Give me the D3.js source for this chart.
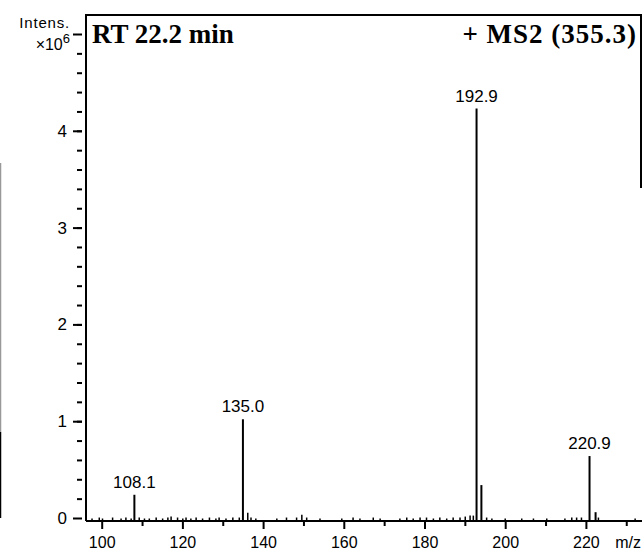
<!DOCTYPE html>
<html>
<head>
<meta charset="utf-8">
<script src="https://cdn.jsdelivr.net/npm/d3@7"></script>
<style>
body { margin: 0; background: #fff; }
svg { display: block; }
</style>
</head>
<body>
<script>
const w = 642;
const h = 551;

// main peaks, intensity in x10^6
const peakMz = [108.1, 135.0, 192.9, 194.1, 220.9, 222.4];
const peakInt = [0.24, 1.02, 4.23, 0.34, 0.64, 0.06];
const peakLabels = ["108.1", "135.0", "192.9", "", "220.9", ""];

// baseline noise
const noiseMz = [97.6, 99.4, 100.2, 102.7, 104.8, 106.0, 107.3, 109.3, 110.6, 111.8,
                 113.5, 115.1, 116.4, 117.2, 118.8, 120.1, 120.9, 122.1, 123.4, 125.0,
                 126.7, 128.3, 129.1, 130.8, 132.5, 134.1, 136.2, 137.0, 138.2, 143.4,
                 145.8, 148.3, 149.6, 150.8, 154.1, 159.5, 162.3, 164.0, 167.3, 169.0,
                 173.9, 175.6, 177.2, 178.9, 180.5, 182.2, 183.8, 185.5, 187.1, 188.8,
                 190.1, 191.3, 192.1, 195.4, 196.7, 200.0, 204.1, 207.0, 210.3, 214.8,
                 216.5, 217.7, 218.9, 223.1, 232.2];
const noiseInt = [0.00, 0.01, 0.00, 0.01, 0.00, 0.01, 0.00, 0.01, 0.00, 0.00,
                  0.01, 0.00, 0.01, 0.02, 0.01, 0.00, 0.01, 0.00, 0.01, 0.00,
                  0.01, 0.00, 0.01, 0.00, 0.01, 0.01, 0.06, 0.01, 0.00, 0.00,
                  0.01, 0.01, 0.04, 0.01, 0.00, 0.00, 0.01, 0.00, 0.01, 0.00,
                  0.00, 0.01, 0.00, 0.01, 0.01, 0.00, 0.01, 0.00, 0.01, 0.01,
                  0.02, 0.03, 0.03, 0.01, 0.00, 0.00, 0.00, 0.00, 0.00, 0.00,
                  0.01, 0.01, 0.01, 0.01, 0.00];

const xTicks = [100, 120, 140, 160, 180, 200, 220];
const xMinorTicks = [110, 130, 150, 170, 190, 210, 230];
const yTicks = [0, 1, 2, 3, 4, 5];
const yTickLabels = ["0", "1", "2", "3", "4", ""];

const axisY = 521;

const xScale = d3.scaleLinear()
                 .domain([100, 220])
                 .range([101.7, 585.9]);

const yScale = d3.scaleLinear()
                 .domain([0, 5])
                 .range([518, 34]);

const svg = d3.select("body")
              .append("svg")
              .attr("width", w)
              .attr("height", h);

// left edge scan artefact
svg.append("line").attr("x1", 0.5).attr("x2", 0.5).attr("y1", 163).attr("y2", 432)
   .attr("stroke", "#999").attr("stroke-width", 1.5);
svg.append("line").attr("x1", 0.5).attr("x2", 0.5).attr("y1", 432).attr("y2", 518)
   .attr("stroke", "#000").attr("stroke-width", 1.5);

// frame
const frame = svg.append("g").attr("stroke", "#000").attr("stroke-width", 2);
frame.append("line").attr("x1", 86).attr("x2", 86).attr("y1", 14).attr("y2", axisY);
frame.append("line").attr("x1", 86).attr("x2", 642).attr("y1", 15).attr("y2", 15);
frame.append("line").attr("x1", 641).attr("x2", 641).attr("y1", 14).attr("y2", 188);
frame.append("line").attr("x1", 86).attr("x2", 642).attr("y1", axisY).attr("y2", axisY);

// noise: tiny bumps just above the axis line
svg.selectAll("line.noise")
   .data(noiseMz)
   .enter()
   .append("line")
   .attr("class", "noise")
   .attr("x1", d => xScale(d))
   .attr("x2", d => xScale(d))
   .attr("y1", axisY)
   .attr("y2", (d, i) => yScale(noiseInt[i]) + 0.5)
   .attr("stroke", "#000")
   .attr("stroke-width", 1.5);

// peaks
svg.selectAll("line.peak")
   .data(peakMz)
   .enter()
   .append("line")
   .attr("class", "peak")
   .attr("x1", d => xScale(d))
   .attr("x2", d => xScale(d))
   .attr("y1", axisY)
   .attr("y2", (d, i) => yScale(peakInt[i]))
   .attr("stroke", "#000")
   .attr("stroke-width", 2);

svg.selectAll("text.plabel")
   .data(peakMz)
   .enter()
   .append("text")
   .attr("class", "plabel")
   .attr("x", d => xScale(d))
   .attr("y", (d, i) => yScale(peakInt[i]) - 7)
   .attr("text-anchor", "middle")
   .attr("font-family", "Liberation Sans, Arial, sans-serif")
   .attr("font-size", 17)
   .text((d, i) => peakLabels[i]);

// x axis
const xAxis = d3.axisBottom(xScale).tickValues(xTicks).tickSize(8).tickPadding(8)
                .tickFormat(d3.format("d"));
const xMinor = d3.axisBottom(xScale).tickValues(xMinorTicks).tickSize(5).tickFormat("");

const gx = svg.append("g")
   .attr("id", "x-axis")
   .attr("transform", "translate(0," + axisY + ")")
   .call(xAxis);
const gxm = svg.append("g")
   .attr("transform", "translate(0," + axisY + ")")
   .call(xMinor);

// y axis, ticks sit a little left of the frame
const yAxis = d3.axisLeft(yScale).tickValues(yTicks).tickSize(9).tickPadding(6)
                .tickFormat((d, i) => yTickLabels[i]);
const yMinor = d3.axisLeft(yScale).tickValues(d3.range(0.2, 5, 0.2)).tickSize(5).tickFormat("");

const gy = svg.append("g")
   .attr("id", "y-axis")
   .attr("transform", "translate(82,0)")
   .call(yAxis);
const gym = svg.append("g")
   .attr("transform", "translate(82,0)")
   .call(yMinor);

[gx, gxm, gy, gym].forEach(g => {
  g.select(".domain").remove();
  g.selectAll(".tick line").attr("stroke", "#000").attr("stroke-width", 2);
  g.selectAll(".tick text")
   .attr("fill", "#000")
   .attr("font-family", "Liberation Sans, Arial, sans-serif")
   .attr("font-size", 17);
});
gx.selectAll(".tick text").attr("font-size", 16);

// titles
svg.append("text")
   .attr("x", 92).attr("y", 43)
   .attr("font-family", "Liberation Serif, Times New Roman, serif")
   .attr("font-weight", "bold")
   .attr("font-size", 27)
   .text("RT 22.2 min");

svg.append("text")
   .attr("x", 637).attr("y", 43)
   .attr("text-anchor", "end")
   .attr("font-family", "Liberation Serif, Times New Roman, serif")
   .attr("font-weight", "bold")
   .attr("font-size", 27)
   .attr("letter-spacing", 1)
   .text("+ MS2 (355.3)");

// axis captions
svg.append("text")
   .attr("x", 70).attr("y", 28)
   .attr("text-anchor", "end")
   .attr("font-family", "Liberation Sans, Arial, sans-serif")
   .attr("font-size", 15)
   .attr("letter-spacing", 0.8)
   .text("Intens.");

const unit = svg.append("text")
   .attr("x", 70).attr("y", 50)
   .attr("text-anchor", "end")
   .attr("font-family", "Liberation Sans, Arial, sans-serif")
   .attr("font-size", 16);
unit.append("tspan").text("\u00d710");
unit.append("tspan").attr("dy", -7).attr("font-size", 13).text("6");

svg.append("text")
   .attr("x", 641).attr("y", 548)
   .attr("text-anchor", "end")
   .attr("font-family", "Liberation Sans, Arial, sans-serif")
   .attr("font-size", 16)
   .text("m/z");
</script>
</body>
</html>
